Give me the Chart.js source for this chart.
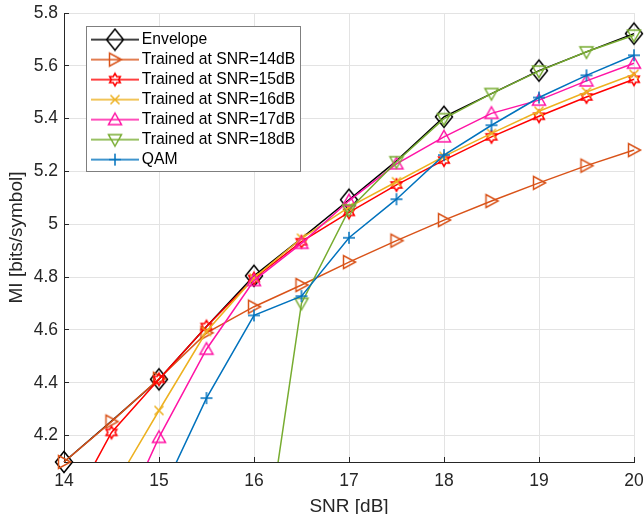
<!DOCTYPE html>
<html><head><meta charset="utf-8">
<script src="https://cdn.jsdelivr.net/npm/chart.js@4/dist/chart.umd.min.js"></script>
<style>html,body{margin:0;padding:0;background:#fff}canvas{display:block}</style>
</head><body>
<canvas id="c" width="644" height="514"></canvas>
<script>
// ---- data ----
const snr = [14, 14.5, 15, 15.5, 16, 16.5, 17, 17.5, 18, 18.5, 19, 19.5, 20];
const xTickValues = [14, 15, 16, 17, 18, 19, 20];
const yTickValues = [4.2, 4.4, 4.6, 4.8, 5.0, 5.2, 5.4, 5.6, 5.8];
const envelope  = [4.10, 4.255, 4.413, 4.613, 4.805, 4.947, 5.093, 5.240, 5.407, 5.495, 5.582, 5.653, 5.722];
const trained14 = [4.10, 4.253, 4.415, 4.589, 4.688, 4.770, 4.857, 4.938, 5.016, 5.088, 5.157, 5.222, 5.281];
const trained15 = [3.88, 4.212, 4.413, 4.613, 4.795, 4.934, 5.045, 5.149, 5.243, 5.331, 5.409, 5.482, 5.549];
const trained16 = [null, 3.99, 4.295, 4.594, 4.797, 4.947, 5.065, 5.161, 5.257, 5.344, 5.428, 5.501, 5.568];
const trained17 = [null, 3.80, 4.193, 4.527, 4.787, 4.928, 5.089, 5.229, 5.331, 5.420, 5.470, 5.543, 5.610];
const trained18 = [null, null, null, null, 3.48, 4.701, 5.055, 5.237, 5.400, 5.495, 5.580, 5.653, 5.716];
const qam       = [null, null, 3.959, 4.342, 4.655, 4.728, 4.949, 5.095, 5.262, 5.375, 5.480, 5.564, 5.640];
const seriesLabels = ['Envelope', 'Trained at SNR=14dB', 'Trained at SNR=15dB', 'Trained at SNR=16dB',
                      'Trained at SNR=17dB', 'Trained at SNR=18dB', 'QAM'];
const xTitle = 'SNR [dB]';
const yTitle = 'MI [bits/symbol]';

// ---- styles ----
const FONT = "'Liberation Sans', Arial, Helvetica, sans-serif";
const AXIS = '#262626';

function drawShape(c, shape, x, y) {
  c.beginPath();
  if (shape === 'diamond') {
    c.moveTo(x, y - 10.5); c.lineTo(x + 8.5, y); c.lineTo(x, y + 10.5); c.lineTo(x - 8.5, y); c.closePath();
  } else if (shape === 'triRight') {
    c.moveTo(x + 6.5, y); c.lineTo(x - 5.5, y - 6.5); c.lineTo(x - 5.5, y + 6.5); c.closePath();
  } else if (shape === 'triUp') {
    c.moveTo(x, y - 6.5); c.lineTo(x + 6.5, y + 5); c.lineTo(x - 6.5, y + 5); c.closePath();
  } else if (shape === 'triDown') {
    c.moveTo(x, y + 6.5); c.lineTo(x + 6.5, y - 5); c.lineTo(x - 6.5, y - 5); c.closePath();
  } else if (shape === 'hexagram') {
    const R = 6.2, r = R * 0.577;
    for (let k = 0; k < 12; k++) {
      const a = (-90 + 30 * k) * Math.PI / 180;
      const rr = k % 2 ? r : R;
      const px = x + rr * Math.cos(a), py = y + rr * Math.sin(a);
      if (k === 0) c.moveTo(px, py); else c.lineTo(px, py);
    }
    c.closePath();
  } else if (shape === 'x') {
    c.moveTo(x - 4.5, y - 4.5); c.lineTo(x + 4.5, y + 4.5);
    c.moveTo(x + 4.5, y - 4.5); c.lineTo(x - 4.5, y + 4.5);
  } else if (shape === 'plus') {
    c.moveTo(x - 6, y); c.lineTo(x + 6, y);
    c.moveTo(x, y - 6); c.lineTo(x, y + 6);
  }
  c.stroke();
}
function markerImg(shape, color) {
  const cv = document.createElement('canvas'); cv.width = 28; cv.height = 28;
  const c = cv.getContext('2d');
  c.strokeStyle = color; c.lineWidth = 1.5; c.lineJoin = 'miter';
  drawShape(c, shape, 14, 14);
  return cv;
}
function legendImg(shape, color) {
  const cv = document.createElement('canvas'); cv.width = 48; cv.height = 24;
  const c = cv.getContext('2d');
  c.strokeStyle = color; c.lineWidth = 1.5;
  c.beginPath(); c.moveTo(0, 12); c.lineTo(48, 12); c.stroke();
  drawShape(c, shape, 24, 12);
  return cv;
}

const seriesDefs = [
  [envelope,  '#000000', 'diamond',  false],
  [trained14, '#D95319', 'triRight', false],
  [trained15, '#FF0000', 'hexagram', true],
  [trained16, '#EDB120', 'x',        true],
  [trained17, '#FF14A5', 'triUp',    true],
  [trained18, '#77AC30', 'triDown',  true],
  [qam,       '#0072BD', 'plus',     true]
];

const datasets = seriesDefs.map(([vals, color, shape, clipBottom], i) => ({
  label: seriesLabels[i],
  data: snr.map((x, j) => ({ x: x, y: vals[j] })),
  borderColor: color,
  backgroundColor: color,
  borderWidth: 1.5,
  pointStyle: markerImg(shape, color),
  pointRadius: i === 0 ? (ctx => Number.isInteger(snr[ctx.dataIndex]) ? 8 : 0) : 6,
  pointHoverRadius: i === 0 ? (ctx => Number.isInteger(snr[ctx.dataIndex]) ? 8 : 0) : 6,
  order: seriesDefs.length - i,
  clip: clipBottom ? { left: 20, top: 20, right: 20, bottom: 0 } : false,
  _legendImg: legendImg(shape, color)
}));

const legendBoxPlugin = {
  id: 'legendBox',
  beforeDraw(chart) {
    const lg = chart.legend;
    if (!lg || lg._wrapped) return;
    lg._wrapped = true;
    lg.draw = function () {
      const ctx = chart.ctx;
      const pad = lg.options.labels.padding;
      const fs = lg.options.labels.font.size;
      ctx.save();
      ctx.fillStyle = '#ffffff';
      ctx.strokeStyle = '#7f7f7f';
      ctx.lineWidth = 1;
      ctx.fillRect(86.5, 26.5, 214, 145);
      ctx.strokeRect(86.5, 26.5, 214, 145);
      const dx = 96 - (lg.left + pad);
      const dy = (39.6 - fs / 2) - (lg.top + pad);
      ctx.translate(dx, dy);
      lg._draw();
      ctx.restore();
    };
  }
};

new Chart(document.getElementById('c'), {
  type: 'line',
  data: { datasets },
  options: {
    responsive: false,
    animation: false,
    devicePixelRatio: 1,
    layout: { padding: { left: 0, right: 10, top: 13, bottom: 0 } },
    plugins: {
      tooltip: { enabled: false },
      legend: {
        position: 'chartArea',
        align: 'start',
        labels: {
          usePointStyle: true,
          pointStyleWidth: 38,
          padding: 4.3,
          color: '#000',
          font: { family: FONT, size: 15.7 },
          generateLabels: chart => chart.data.datasets.map((ds, i) => ({
            text: ds.label, pointStyle: ds._legendImg, datasetIndex: i,
            fontColor: '#000', fillStyle: 'transparent', strokeStyle: 'transparent', lineWidth: 0, hidden: false
          }))
        }
      }
    },
    scales: {
      x: {
        type: 'linear', min: 14, max: 20,
        afterBuildTicks: s => { s.ticks = xTickValues.map(v => ({ value: v })); },
        afterFit: s => { s.height = 52; s.paddingLeft = 0; s.paddingRight = 0; },
        grid: { color: '#e3e3e3', tickColor: AXIS, tickLength: -5, lineWidth: 1 },
        border: { display: true, color: AXIS, width: 1 },
        ticks: { color: AXIS, font: { family: FONT, size: 17.5 }, padding: 14, maxRotation: 0,
                 callback: v => String(v) },
        title: { display: true, text: xTitle, color: AXIS, font: { family: FONT, size: 19, lineHeight: 1 },
                 padding: { top: 0, bottom: -1.9 } }
      },
      y: {
        type: 'linear', min: 4.1, max: 5.8,
        afterBuildTicks: s => { s.ticks = yTickValues.map(v => ({ value: v })); },
        afterFit: s => { s.width = 64; s.paddingTop = 0; s.paddingBottom = 0; },
        grid: { color: '#e3e3e3', tickColor: AXIS, tickLength: -5, lineWidth: 1 },
        border: { display: true, color: AXIS, width: 1 },
        ticks: { color: AXIS, font: { family: FONT, size: 17.5 }, padding: 11,
                 callback: v => String(parseFloat(Number(v).toFixed(1))) },
        title: { display: true, text: yTitle, color: AXIS, font: { family: FONT, size: 19, lineHeight: 1 },
                 padding: { top: 7.2, bottom: 0 } }
      }
    }
  },
  plugins: [legendBoxPlugin]
});
</script>
</body></html>
